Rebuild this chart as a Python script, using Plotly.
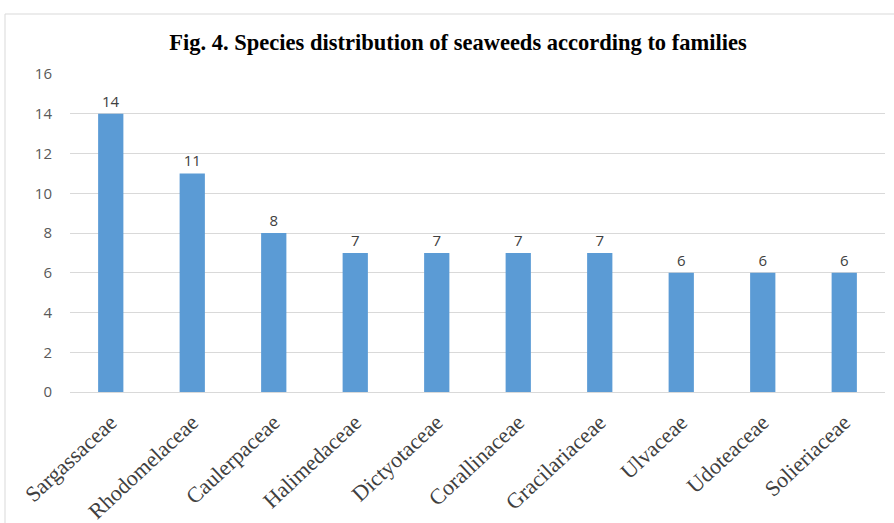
import plotly.graph_objects as go

# Seaweed families and number of species recorded in each
families = ["Sargassaceae", "Rhodomelaceae", "Caulerpaceae", "Halimedaceae",
            "Dictyotaceae", "Corallinaceae", "Gracilariaceae", "Ulvaceae",
            "Udoteaceae", "Solieriaceae"]
species_counts = [14, 11, 8, 7, 7, 7, 7, 6, 6, 6]
y_ticks = [0, 2, 4, 6, 8, 10, 12, 14, 16]

W, H = 894, 523
L, R, T, B = 70, 9, 74, 131
pw, ph = W - L - R, H - T - B

fig = go.Figure(go.Bar(
    x=families, y=species_counts,
    marker=dict(color="#5B9BD5", line=dict(width=0)),
    text=[str(v) for v in species_counts],
    textposition="outside",
    textfont=dict(family="Open Sans, sans-serif", size=15, color="#404040"),
    cliponaxis=False,
))

# light frame around the chart area (left and top edges)
fx0 = (5 - L) / pw
fy1 = (H - B - 14) / ph
fig.add_shape(type="line", xref="paper", yref="paper", x0=fx0, x1=fx0, y0=-1, y1=fy1,
              line=dict(color="#d9d9d9", width=1))
fig.add_shape(type="line", xref="paper", yref="paper", x0=fx0, x1=2, y0=fy1, y1=fy1,
              line=dict(color="#d9d9d9", width=1))

fig.update_layout(
    width=W, height=H,
    margin=dict(l=L, r=R, t=T, b=B, autoexpand=False),
    paper_bgcolor="white", plot_bgcolor="white",
    bargap=0.69,
    showlegend=False,
    title=dict(text="<b>Fig. 4. Species distribution of seaweeds according to families</b>",
               x=(458 - L) / pw, xref="paper", xanchor="center",
               y=1 - 42 / H, yanchor="middle",
               font=dict(family="Liberation Serif, Times New Roman, serif", size=22.5, color="#000000")),
    xaxis=dict(tickangle=-43, showgrid=False, automargin=False,
               showline=True, linecolor="#d9d9d9", linewidth=1,
               ticks="", ticklabelstandoff=8,
               tickfont=dict(family="Liberation Serif, Times New Roman, serif", size=22, color="#404040")),
    yaxis=dict(range=[0, 16], tickvals=y_ticks, showgrid=True, gridcolor="#d9d9d9",
               gridwidth=1, zeroline=False, showline=False, ticks="", automargin=False,
               ticklabelstandoff=17,
               tickfont=dict(family="Open Sans, sans-serif", size=15, color="#595959")),
)

fig.write_html("out.html")
